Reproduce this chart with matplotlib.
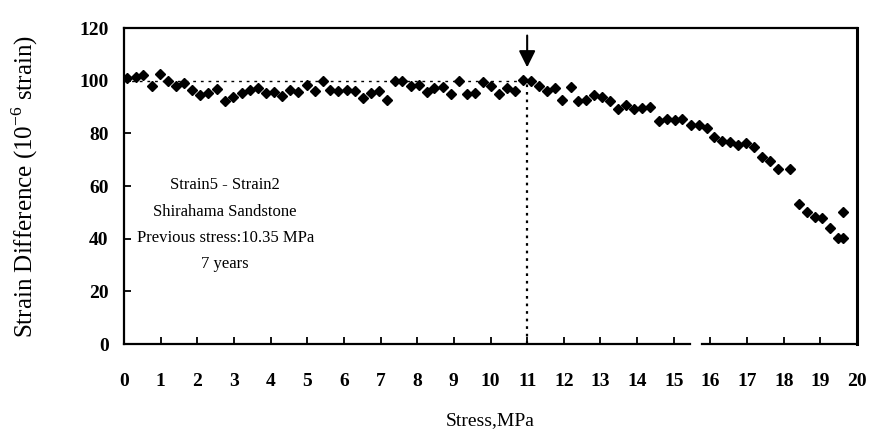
import matplotlib
matplotlib.use('Agg')
import matplotlib.pyplot as plt

# stress (MPa) and strain difference (10^-6 strain)
stress = [0.07, 0.32, 0.51, 0.76, 0.98, 1.19, 1.42, 1.64, 1.86, 2.07,
          2.30, 2.53, 2.76, 2.98, 3.21, 3.43, 3.66, 3.87, 4.09, 4.32,
          4.53, 4.76, 4.98, 5.20, 5.42, 5.62, 5.84, 6.08, 6.30, 6.52,
          6.73, 6.95, 7.17, 7.39, 7.59, 7.82, 8.04, 8.26, 8.46, 8.70,
          8.91, 9.13, 9.35, 9.57, 9.80, 10.02, 10.22, 10.44, 10.66, 10.88,
          11.11, 11.33, 11.53, 11.75, 11.95, 12.19, 12.39, 12.61, 12.82, 13.04,
          13.26, 13.48, 13.70, 13.92, 14.13, 14.35, 14.59, 14.81, 15.03, 15.23,
          15.46, 15.68, 15.90, 16.10, 16.32, 16.53, 16.75, 16.97, 17.19, 17.41,
          17.63, 17.84, 18.17, 18.41, 18.63, 18.85, 19.04, 19.26, 19.48, 19.61,
          19.61]
strain_diff = [100.9, 101.4, 102.2, 97.8, 102.7, 99.9, 98.0, 99.2, 96.4, 94.4,
               95.5, 96.8, 92.1, 93.9, 95.3, 96.4, 97.2, 95.3, 95.6, 94.1,
               96.4, 95.6, 98.4, 95.9, 99.9, 96.4, 96.1, 96.6, 95.9, 93.6,
               95.4, 95.9, 92.8, 99.9, 99.7, 98.1, 98.4, 95.6, 97.2, 97.7,
               95.1, 99.9, 95.1, 95.4, 99.4, 97.9, 95.1, 97.4, 95.9, 100.4,
               99.9, 98.1, 96.1, 97.2, 92.6, 97.7, 92.1, 92.6, 94.4, 93.9,
               92.4, 89.1, 90.6, 89.1, 89.6, 90.1, 84.5, 85.3, 85.0, 85.3,
               83.0, 83.0, 82.2, 78.5, 77.2, 76.7, 75.4, 76.5, 74.7, 70.9,
               69.4, 66.4, 66.4, 53.0, 50.2, 48.4, 48.0, 44.2, 40.1, 40.4,
               50.0]

xticks = list(range(0, 21))
yticks = [0, 20, 40, 60, 80, 100, 120]
notes = ["Strain5 - Strain2", "Shirahama Sandstone",
         "Previous stress:10.35 MPa", "7 years"]

serif = ['Liberation Serif', 'DejaVu Serif']
plt.rcParams['font.family'] = serif
plt.rcParams['mathtext.fontset'] = 'custom'
plt.rcParams['mathtext.rm'] = 'Liberation Serif'

fig = plt.figure(figsize=(8.69, 4.33), dpi=100)
ax = fig.add_axes([0.1427, 0.2055, 0.8435, 0.7298])

ax.plot(stress, strain_diff, linestyle='none', marker='D', markersize=5.3,
        color='black')

# reference line at 100 and the marker at previous stress level
ax.plot([0, 11], [100, 100], color='black', lw=1.0, linestyle=(0, (2, 3.5)))
ax.plot([11, 11], [0, 99], color='black', lw=1.6, linestyle=(0, (1.2, 2.2)))
ax.annotate('', xy=(11, 104.0), xytext=(11, 118.2),
            arrowprops=dict(arrowstyle='-|>', color='black', lw=1.5,
                            mutation_scale=25))

for i, s in enumerate(notes):
    ax.text(2.76, 60.2 - 9.9 * i, s, ha='center', va='center', fontsize=12)

ax.set_xlim(0, 20)
ax.set_ylim(0, 120)
ax.set_xticks(xticks)
ax.set_yticks(yticks)
ax.set_xticklabels([str(t) for t in xticks], fontweight='bold', fontsize=14)
ax.set_yticklabels([str(t) for t in yticks], fontweight='bold', fontsize=14)
ax.tick_params(axis='x', direction='in', length=5, width=1.3, pad=21,
               top=False)
ax.tick_params(axis='y', direction='in', length=5, width=1.3, pad=11,
               right=False)

for side in ['left', 'top', 'right']:
    ax.spines[side].set_linewidth(1.6)
ax.spines['right'].set_linewidth(2.2)
# bottom axis line has a small break near 15.5 in the original
ax.spines['bottom'].set_visible(False)
ax.axhline(0, xmin=0, xmax=0.772, color='black', lw=1.6, clip_on=False)
ax.axhline(0, xmin=0.789, xmax=1, color='black', lw=1.6, clip_on=False)

ax.set_ylabel('Strain Difference (10$^{-6}$ strain)', fontsize=18)
ax.yaxis.set_label_coords(-0.114, 0.5)
ax.set_xlabel('Stress,MPa', fontsize=14)
ax.xaxis.set_label_coords(0.4993, -0.215)

fig.savefig('out.png', dpi=100)
